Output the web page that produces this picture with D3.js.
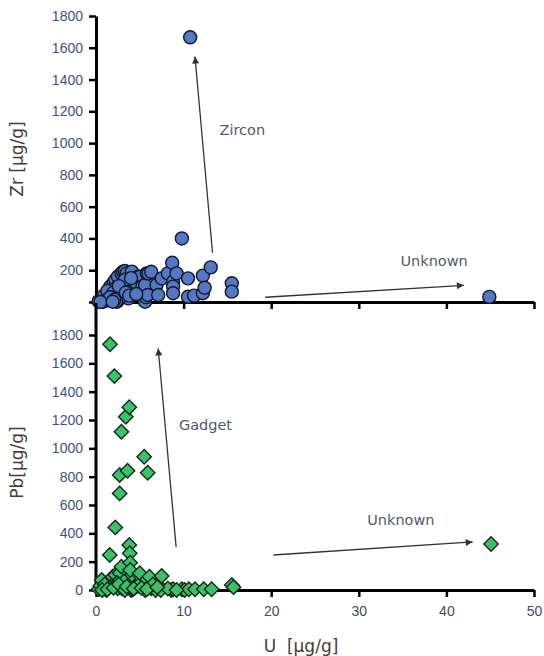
<!DOCTYPE html>
<html>
<head>
<meta charset="utf-8">
<script src="https://cdn.jsdelivr.net/npm/d3@7"></script>
<style>
  html, body { margin: 0; padding: 0; background: #fff; }
  svg { display: block; font-family: "DejaVu Sans", Verdana, sans-serif; }
</style>
</head>
<body>
<svg id="chart" width="544" height="656"></svg>
<script>
// U vs Zr concentrations (µg/g)
const zrU  = [0.3,0.6,0.8,1.0,1.2,1.4,1.5,1.6,1.7,1.8,1.9,2.0,2.2,2.2,2.4,2.5,2.6,2.7,2.9,3.0,
              3.1,3.1,3.3,3.5,3.6,3.7,3.9,4.1,4.3,4.3,4.6,4.8,5.0,5.3,5.6,5.6,5.7,5.8,5.9,6.0,
              6.3,6.9,7.1,7.5,8.2,8.7,8.8,8.8,8.8,9.2,9.8,10.5,10.5,10.75,11.2,12.2,12.2,12.4,13.1,15.5,
              15.5,44.9,0.9,1.3,2.0,2.8,3.3,4.0,1.1,2.3,1.6,2.1,2.6,3.4,0.5,1.9,3.8,4.6];
const zrVal = [5,10,2,20,35,55,15,96,75,23,45,120,138,86,2,160,55,65,180,110,
               191,107,195,180,128,23,90,191,86,75,120,159,159,100,107,2,30,180,44,180,
               190,107,44,149,180,247,128,97,55,180,400,149,33,1666,40,166,55,90,218,118,
               65,32,40,70,60,30,140,150,8,5,30,15,100,60,0,2,40,50];

// U vs Pb concentrations (µg/g)
const pbU  = [0.3,0.5,0.65,0.9,1.2,1.4,1.6,1.57,1.75,1.9,2.1,2.2,2.2,2.5,2.7,2.7,2.7,2.9,2.9,3.0,
              3.4,3.6,3.7,3.8,3.8,3.85,3.9,3.9,4.0,4.2,5.0,5.4,5.5,5.6,5.9,6.1,6.3,6.8,7.1,7.4,
              7.5,8.6,8.8,9.8,10.1,10.6,11.3,12.3,13.2,15.5,15.7,45.1,1.0,1.8,2.4,3.2,4.5,4.8,6.5,8.2,
              0.7,1.3,2.0,2.6,3.3,3.5,4.3,5.2,5.8,7.0,9.2];
const pbVal = [5,30,71,10,0,20,1735,247,59,94,1510,442,106,12,812,682,118,1117,165,10,
               1223,842,82,1290,318,259,193,141,0,5,118,47,941,0,828,94,12,0,35,0,
               99,0,5,5,0,5,5,5,5,35,20,325,40,30,50,60,20,30,40,10,
               0,5,15,40,0,25,10,15,5,20,0];

// Axis ticks
const xTicks = [0,10,20,30,40,50];
const yTicks = [0,200,400,600,800,1000,1200,1400,1600,1800];

// Annotation arrows and labels, in data units [U, value]
const zrArrows = [ {from:[13.3,310], to:[11.3,1545]}, {from:[19.3,30], to:[42.0,105]} ];
const zrNotes  = [ {at:[16.7,1082], text:"Zircon"}, {at:[38.6,258], text:"Unknown"} ];
const pbArrows = [ {from:[9.15,303], to:[7.1,1705]}, {from:[20.25,247], to:[43.0,339]} ];
const pbNotes  = [ {at:[12.5,1164], text:"Gadget"}, {at:[34.8,494], text:"Unknown"} ];

const svg = d3.select("#chart");

const x = d3.scaleLinear().domain([0,50]).range([96,534]);
const yTop = d3.scaleLinear().domain([0,1800]).range([302,16]);
const yBot = d3.scaleLinear().domain([0,1800]).range([590,335]);

const tickColY = "#3a5282";
const tickColX = "#3f4a68";
const titleCol = "#463c38";
const noteCol  = "#4f5a70";

svg.append("defs").append("marker")
  .attr("id","head").attr("viewBox","0 0 10 10")
  .attr("refX",10).attr("refY",5)
  .attr("markerWidth",10).attr("markerHeight",7)
  .attr("markerUnits","userSpaceOnUse")
  .attr("orient","auto")
  .append("path").attr("d","M0,0 L10,5 L0,10 Z").attr("fill","#333");

function styleAxis(g, col) {
  g.select(".domain").attr("stroke","#000").attr("stroke-width",3);
  g.selectAll(".tick line").attr("stroke","#000").attr("stroke-width",2.5);
  g.selectAll(".tick text").attr("fill",col).style("font-size","14px");
}

function panel(yScale, xVals, yVals, kind, arrows, notes, showX, showZero, yTitle, axisTop) {
  // y axis
  const fmt = d => (d === 0 && !showZero) ? "" : d3.format("d")(d);
  const gy = svg.append("g").attr("transform",`translate(${x(0)},0)`)
    .call(d3.axisLeft(yScale).tickValues(yTicks).tickFormat(fmt)
      .tickSize(7).tickSizeOuter(0).tickPadding(6));
  styleAxis(gy, tickColY);
  if (axisTop !== undefined) {
    gy.select(".domain").attr("d", `M0,${yScale(0)}V${axisTop}`);
  }

  // x axis
  const ax = d3.axisBottom(x).tickValues(xTicks).tickSize(7).tickSizeOuter(0).tickPadding(9);
  ax.tickFormat(showX ? d3.format("d") : () => "");
  const gx = svg.append("g").attr("transform",`translate(0,${yScale(0)})`).call(ax);
  styleAxis(gx, tickColX);

  // arrows
  svg.append("g").selectAll("line").data(arrows).join("line")
    .attr("x1",d=>x(d.from[0])).attr("y1",d=>yScale(d.from[1]))
    .attr("x2",d=>x(d.to[0])).attr("y2",d=>yScale(d.to[1]))
    .attr("stroke","#333").attr("stroke-width",1.3)
    .attr("marker-end","url(#head)");

  svg.append("g").selectAll("text").data(notes).join("text")
    .attr("x",d=>x(d.at[0])).attr("y",d=>yScale(d.at[1]))
    .attr("text-anchor","middle").attr("dominant-baseline","central")
    .attr("fill",noteCol).style("font-size","14.5px")
    .text(d=>d.text);

  // points
  const pts = xVals.map((u,i)=>[u,yVals[i]]);
  const g = svg.append("g");
  if (kind === "circle") {
    g.selectAll("circle").data(pts).join("circle")
      .attr("cx",d=>x(d[0])).attr("cy",d=>yScale(d[1])).attr("r",6.5)
      .attr("fill","#5677c3").attr("stroke","#111a2c").attr("stroke-width",1.4);
  } else {
    const r = 7.2;
    g.selectAll("path").data(pts).join("path")
      .attr("d",`M0,${-r}L${r},0L0,${r}L${-r},0Z`)
      .attr("transform",d=>`translate(${x(d[0])},${yScale(d[1])})`)
      .attr("fill","#3ec06a").attr("stroke","#0f2a18").attr("stroke-width",1.4);
  }

  // y title
  const midY = (yScale(0)+yScale(1800))/2;
  svg.append("text")
    .attr("transform",`translate(17,${midY}) rotate(-90)`)
    .attr("text-anchor","middle").attr("dominant-baseline","central")
    .attr("fill",titleCol).style("font-size","17px")
    .text(yTitle);
}

panel(yTop, zrU, zrVal, "circle", zrArrows, zrNotes, false, false, "Zr [µg/g]");
panel(yBot, pbU, pbVal, "diamond", pbArrows, pbNotes, true, true, "Pb[µg/g]", 303);

// x title
svg.append("text")
  .attr("x",301).attr("y",646)
  .attr("text-anchor","middle").attr("dominant-baseline","central")
  .attr("fill",titleCol).style("font-size","17px")
  .style("white-space","pre")
  .text("U  [µg/g]");
</script>
</body>
</html>
